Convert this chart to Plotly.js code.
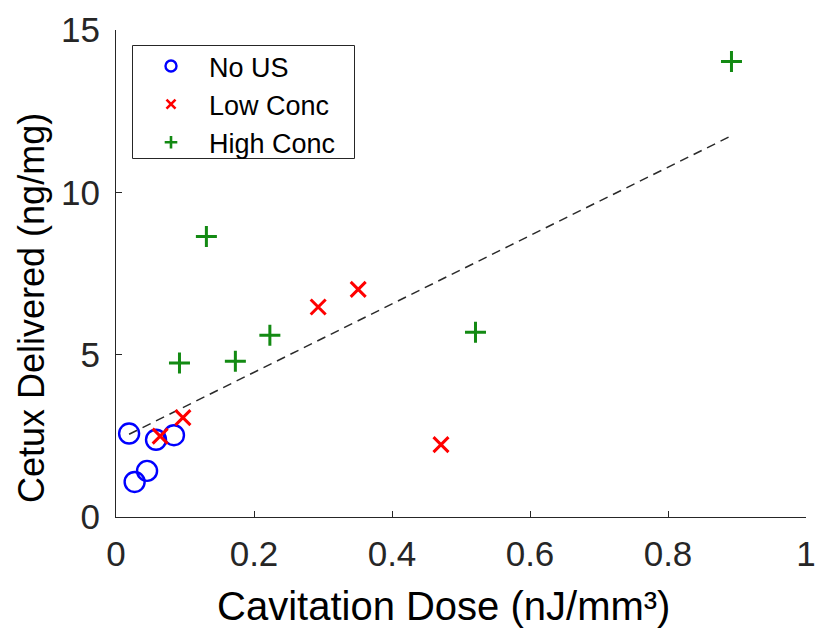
<!DOCTYPE html>
<html>
<head>
<meta charset="utf-8">
<script src="https://cdn.plot.ly/plotly-3.0.1.min.js"></script>
<style>html,body{margin:0;padding:0;background:#fff;}#chart{width:816px;height:634px;}</style>
</head>
<body>
<div id="chart"></div>
<script>
// Data
const seriesNames = ["No US", "Low Conc", "High Conc"];
const noUsX = [0.019, 0.027, 0.045, 0.058, 0.084];
const noUsY = [2.57, 1.08, 1.42, 2.38, 2.52];
const lowX = [0.064, 0.097, 0.293, 0.351, 0.471];
const lowY = [2.49, 3.06, 6.47, 7.01, 2.23];
const highX = [0.092, 0.131, 0.173, 0.223, 0.521, 0.892];
const highY = [4.74, 8.64, 4.80, 5.60, 5.69, 14.03];
const fitSlope = 10.53;
const fitIntercept = 2.35;
const xTickVals = [0, 0.2, 0.4, 0.6, 0.8, 1];
const xTickText = ["0", "0.2", "0.4", "0.6", "0.8", "1"];
const yTickVals = [0, 5, 10, 15];
const yTickText = ["0", "5", "10", "15"];
const xTitle = "Cavitation Dose (nJ/mm³)";
const yTitle = "Cetux Delivered (ng/mg)";

const allX = noUsX.concat(lowX, highX);
const fitXs = [Math.min.apply(null, allX), Math.max.apply(null, allX)];
const fitYs = fitXs.map(x => fitIntercept + fitSlope * x);

const blue = "#0000ff", red = "#ff0000", green = "#138a13";
const font = "Arial, 'Liberation Sans', Helvetica, sans-serif";

const W = 816, H = 634;
const M = {l: 116, r: 10, t: 30, b: 117};
const plotW = W - M.l - M.r, plotH = H - M.t - M.b;
const px2fx = px => (px - M.l) / plotW;
const py2fy = py => (H - M.b - py) / plotH;

const traces = [
  {x: fitXs, y: fitYs, mode: "lines", showlegend: false, hoverinfo: "skip",
   line: {color: "#2a2a2a", width: 1.5, dash: "9px,6px"}},
  {x: noUsX, y: noUsY, mode: "markers", showlegend: false,
   marker: {symbol: "circle-open", size: 20, color: blue, line: {color: blue, width: 2.4}}},
  {x: lowX, y: lowY, mode: "markers", showlegend: false,
   marker: {symbol: "x-thin", size: 15, color: red, line: {color: red, width: 3}}},
  {x: highX, y: highY, mode: "markers", showlegend: false,
   marker: {symbol: "cross-thin", size: 15, color: green, line: {color: green, width: 3}}},
  // legend entries (small markers, as in the reference legend)
  {x: [null], y: [null], mode: "markers", name: seriesNames[0],
   marker: {symbol: "circle-open", size: 11, color: blue, line: {color: blue, width: 2.4}}},
  {x: [null], y: [null], mode: "markers", name: seriesNames[1],
   marker: {symbol: "x-thin", size: 9, color: red, line: {color: red, width: 2.6}}},
  {x: [null], y: [null], mode: "markers", name: seriesNames[2],
   marker: {symbol: "cross-thin", size: 9, color: green, line: {color: green, width: 2.6}}}
];

const axisCommon = {
  showgrid: false, zeroline: false, showline: true, linecolor: "#262626", linewidth: 1,
  ticks: "inside", ticklen: 6, tickwidth: 1, tickcolor: "#262626",
  tickfont: {family: font, size: 35, color: "#262626"}, tickmode: "array", mirror: false,
  fixedrange: true, ticklabeloverflow: "allow"
};

const layout = {
  width: W, height: H,
  margin: {l: M.l, r: M.r, t: M.t, b: M.b, pad: 0},
  paper_bgcolor: "#ffffff", plot_bgcolor: "#ffffff",
  font: {family: font, color: "#262626"},
  xaxis: Object.assign({}, axisCommon, {
    range: [0, 1], tickvals: xTickVals, ticktext: xTickText, ticklabelstandoff: 6
  }),
  yaxis: Object.assign({}, axisCommon, {
    range: [0, 15], tickvals: yTickVals, ticktext: yTickText, ticklabelstandoff: 8
  }),
  annotations: [
    {text: xTitle, xref: "paper", yref: "paper", x: px2fx(443), y: py2fy(606), xanchor: "center", yanchor: "middle",
     showarrow: false, font: {family: font, size: 40, color: "#000"}},
    {text: yTitle, xref: "paper", yref: "paper", x: px2fx(31), y: py2fy(308), xanchor: "center", yanchor: "middle",
     textangle: -90, showarrow: false, font: {family: font, size: 36, color: "#000"}}
  ],
  shapes: [
    {type: "rect", xref: "paper", yref: "paper", layer: "above",
     x0: px2fx(132.5), x1: px2fx(354.5), y0: py2fy(158.5), y1: py2fy(45.5),
     line: {color: "#262626", width: 1}, fillcolor: "rgba(255,255,255,0)"}
  ],
  showlegend: true,
  legend: {
    x: px2fx(133), y: py2fy(42), xanchor: "left", yanchor: "top",
    bgcolor: "rgba(255,255,255,0)", borderwidth: 0,
    font: {family: font, size: 27, color: "#000"},
    itemwidth: 66, tracegroupgap: 0, itemclick: false
  }
};

Plotly.newPlot("chart", traces, layout, {displayModeBar: false, staticPlot: true});
</script>
</body>
</html>
